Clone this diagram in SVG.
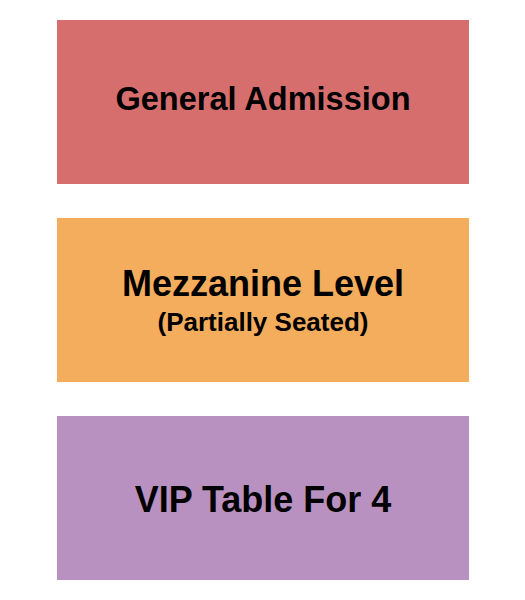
<svg xmlns="http://www.w3.org/2000/svg" width="525" height="600" viewBox="0 0 525 600">
<style>
.t{font-family:"Liberation Sans",Arial,sans-serif;font-weight:bold;fill:#000;text-anchor:middle}
</style>
<rect width="525" height="600" fill="#fff"/>
<g id="general-admission">
<rect x="57" y="20" width="412" height="164" fill="#d76e6e"/>
<text class="t" x="263" y="110" font-size="32.5">General Admission</text>
</g>
<g id="mezzanine-level">
<rect x="57" y="218" width="412" height="164" fill="#f3ad5c"/>
<text class="t" x="263" y="296" font-size="36">Mezzanine Level</text>
<text class="t" x="263" y="331" font-size="26">(Partially Seated)</text>
</g>
<g id="vip-table">
<rect x="57" y="416" width="412" height="164" fill="#b991c1"/>
<text class="t" x="263" y="512" font-size="36">VIP Table For 4</text>
</g>
<g id="connectors"/>
</svg>
